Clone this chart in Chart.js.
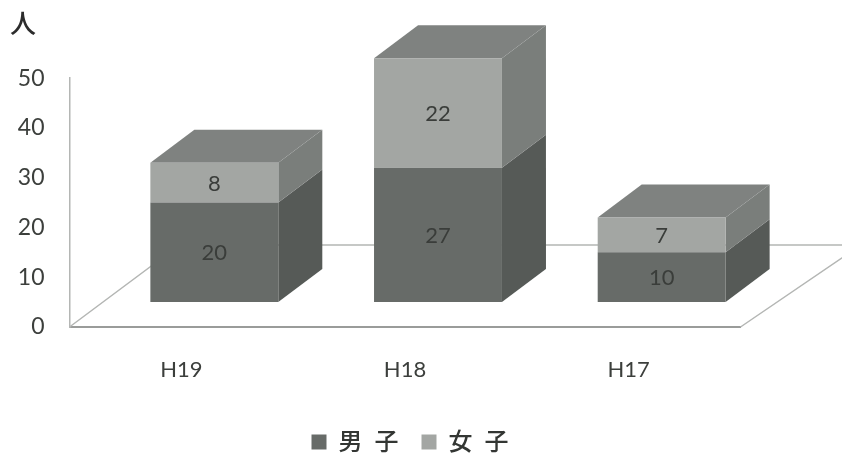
<!DOCTYPE html>
<html>
<head>
<meta charset="utf-8">
<title>chart</title>
<style>
	html, body { margin: 0; padding: 0; background: #fff; }
	canvas { display: block; }
</style>
<script src="https://cdn.jsdelivr.net/npm/chart.js@4"></script>
</head>
<body>
<canvas id="myChart" width="842" height="457"></canvas>
<script>
	var categories = ['H19', 'H18', 'H17'];
	var boys = [20, 27, 10];
	var girls = [8, 22, 7];
	var font_family = "Lato, 'Noto Sans CJK JP', sans-serif";
	var text_color = '#3c3f3c';

	// depth of the boxes and where they stand on the floor
	var box_dx = 44, box_dy = -33;
	var shift_x = 33, shift_y = -25;
	var floor_dx = 110, floor_dy = -82;

	function shape(ctx, pts, color) {
		ctx.beginPath();
		ctx.moveTo(pts[0][0], pts[0][1]);
		for (var i = 1; i < pts.length; i++) ctx.lineTo(pts[i][0], pts[i][1]);
		ctx.closePath();
		ctx.fillStyle = color;
		ctx.fill();
	}

	var box3d = {
		id: 'box3d',
		beforeDatasetsDraw: function(chart) {
			var ctx = chart.ctx, a = chart.chartArea;
			// floor
			ctx.save();
			ctx.strokeStyle = '#b4b6b4';
			ctx.lineWidth = 1.5;
			ctx.beginPath();
			ctx.moveTo(a.left, a.bottom);
			ctx.lineTo(a.left + floor_dx, a.bottom + floor_dy);
			ctx.lineTo(842, a.bottom + floor_dy);
			ctx.moveTo(a.right, a.bottom);
			ctx.lineTo(a.right + floor_dx, a.bottom + floor_dy + 7);
			ctx.stroke();
			ctx.restore();

			ctx.save();
			ctx.translate(shift_x, shift_y);
			chart.data.datasets.forEach(function(ds, d) {
				chart.getDatasetMeta(d).data.forEach(function(bar) {
					var l = bar.x - bar.width / 2, r = bar.x + bar.width / 2;
					shape(ctx, [[r, bar.base], [r + box_dx, bar.base + box_dy], [r + box_dx, bar.y + box_dy], [r, bar.y]], ds.sideColor);
					if (d == chart.data.datasets.length - 1) {
						shape(ctx, [[l, bar.y], [l + box_dx, bar.y + box_dy], [r + box_dx, bar.y + box_dy], [r, bar.y]], '#7f8280');
					}
				});
			});
		},
		afterDatasetsDraw: function(chart) {
			var ctx = chart.ctx;
			ctx.font = '22px ' + font_family;
			ctx.textAlign = 'center';
			ctx.textBaseline = 'middle';
			ctx.fillStyle = '#3a3d3a';
			chart.data.datasets.forEach(function(ds, d) {
				chart.getDatasetMeta(d).data.forEach(function(bar, i) {
					ctx.fillText(ds.data[i], bar.x, (bar.y + bar.base) / 2 + 1);
				});
			});
			ctx.restore();
		}
	};

	var ctxBar = document.getElementById('myChart').getContext('2d');
	var myBar = new Chart(ctxBar, {
		type: 'bar',
		data: {
			labels: categories,
			datasets: [{
				label: '男\u2002子',
				data: boys,
				backgroundColor: '#676b68',
				sideColor: '#565a57'
			}, {
				label: '女\u2002子',
				data: girls,
				backgroundColor: '#a3a6a3',
				sideColor: '#7a7e7b'
			}]
		},
		plugins: [box3d],
		options: {
			responsive: false,
			animation: false,
			categoryPercentage: 1,
			barPercentage: 0.572,
			layout: {
				padding: { left: 10, right: 32, top: 0, bottom: -7 }
			},
			plugins: {
				tooltip: { enabled: false },
				title: {
					display: true,
					text: '人',
					align: 'start',
					color: '#2c2c2c',
					font: { family: font_family, size: 26, weight: 500 },
					padding: { top: 9, bottom: 38 }
				},
				legend: {
					position: 'bottom',
					labels: {
						boxWidth: 15,
						boxHeight: 15,
						padding: 23,
						color: '#333633',
						font: { family: font_family, size: 24, weight: 500 }
					}
				}
			},
			scales: {
				x: {
					stacked: true,
					grid: { display: false },
					border: { color: '#9a9c9a', width: 2 },
					ticks: {
						color: text_color,
						padding: 22,
						maxRotation: 0,
						font: { family: font_family, size: 22 }
					},
					afterFit: function(scale) { scale.height = 80; }
				},
				y: {
					stacked: true,
					min: 0,
					max: 50,
					grid: { display: false },
					border: { color: '#b4b6b4', width: 1.5 },
					ticks: {
						stepSize: 10,
						color: text_color,
						padding: 17,
						font: { family: font_family, size: 23 }
					},
					afterFit: function(scale) { scale.width = 59.5; }
				},
				yRight: {
					position: 'right',
					grid: { display: false },
					border: { display: false },
					ticks: { display: false },
					afterFit: function(scale) { scale.width = 69.5; }
				}
			}
		}
	});
</script>
</body>
</html>
